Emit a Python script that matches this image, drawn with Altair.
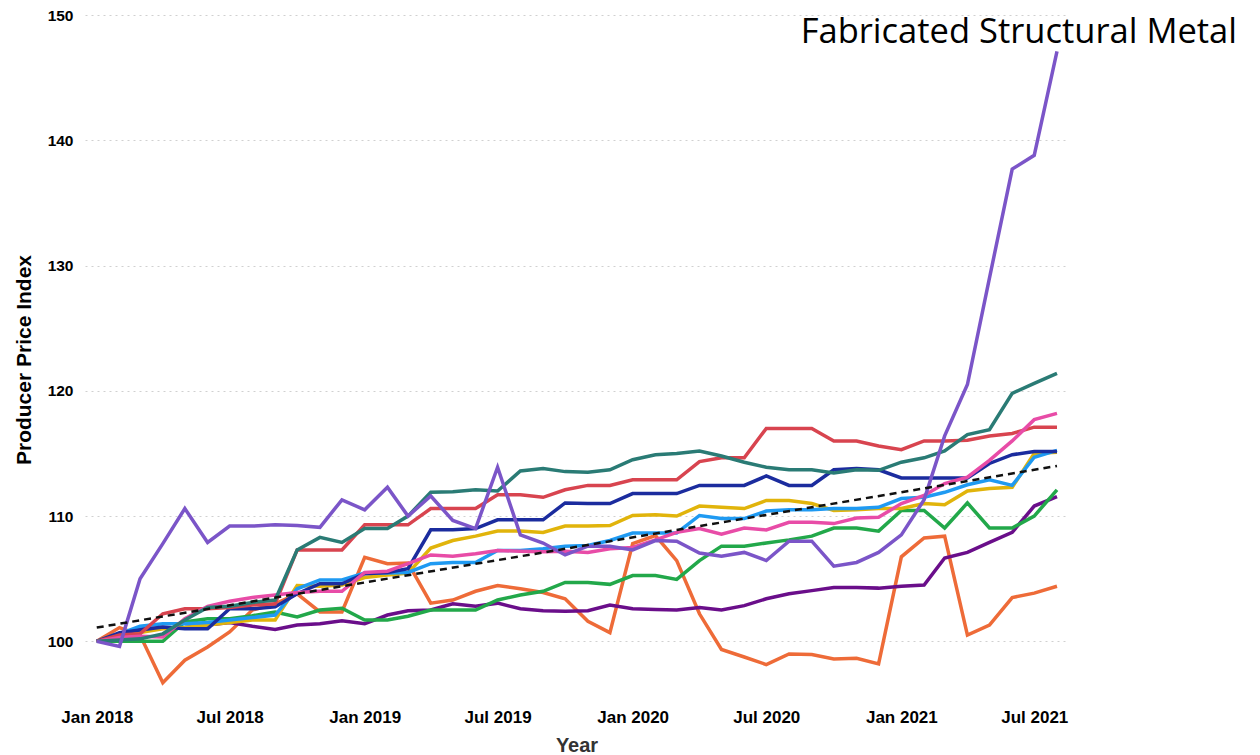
import altair as alt
import pandas as pd

# Monthly observations Jan 2018 .. Aug 2021
months = pd.date_range("2018-01-01", "2021-08-01", freq="MS").strftime("%Y-%m-%dT00:00:00").tolist()

series_names = [
    "Orange", "Dark Purple", "Green", "Yellow", "Light Blue",
    "Dark Blue", "Red", "Pink", "Teal", "Fabricated Structural Metal",
]
series_colors = [
    "#EE6B38", "#6A0E8A", "#22A84A", "#E1B40B", "#1F9AF2",
    "#1B2C9E", "#D8444F", "#E84CA7", "#2A7B75", "#7B55C8",
]

orange = [100, 101.1, 100.5, 96.7, 98.5, 99.55, 100.75, 102.5, 103.0, 103.8, 102.35, 102.35,
          106.7, 106.2, 106.25, 103.05, 103.3, 104.0, 104.45, 104.2, 103.9, 103.4, 101.6, 100.7,
          107.8, 108.45, 106.45, 102.2, 99.35, 98.75, 98.15, 99.0, 98.95, 98.6, 98.65, 98.2,
          106.75, 108.25, 108.4, 100.5, 101.3, 103.5, 103.85, 104.4]
dark_purple = [100, 100.5, 101.0, 101.05, 101.1, 101.3, 101.5, 101.2, 100.95, 101.3, 101.4, 101.65,
               101.4, 102.1, 102.45, 102.5, 103.0, 102.8, 103.05, 102.6, 102.45, 102.4, 102.45, 102.9,
               102.6, 102.55, 102.5, 102.7, 102.5, 102.85, 103.4, 103.8, 104.05, 104.3, 104.3, 104.25,
               104.4, 104.5, 106.65, 107.1, 107.9, 108.7, 110.8, 111.55]
green = [100, 100.0, 100.0, 100.0, 101.55, 101.8, 101.8, 102.05, 102.35, 101.95, 102.5, 102.65,
         101.7, 101.7, 102.0, 102.5, 102.5, 102.5, 103.3, 103.7, 104.0, 104.7, 104.7, 104.55,
         105.25, 105.25, 104.95, 106.45, 107.6, 107.6, 107.85, 108.1, 108.4, 109.05, 109.05, 108.8,
         110.45, 110.45, 109.05, 111.05, 109.05, 109.05, 110.0, 112.1]
yellow = [100, 100.3, 100.7, 101.0, 101.1, 101.3, 101.5, 101.7, 101.7, 104.45, 104.4, 104.5,
          105.1, 105.3, 105.45, 107.45, 108.05, 108.4, 108.8, 108.8, 108.7, 109.2, 109.2, 109.25,
          110.05, 110.1, 110.0, 110.8, 110.7, 110.6, 111.25, 111.25, 111.0, 110.45, 110.5, 110.6,
          110.6, 111.0, 110.9, 112.0, 112.2, 112.3, 115.0, 115.1]
light_blue = [100, 100.6, 101.2, 101.4, 101.4, 101.5, 101.7, 101.9, 102.1, 104.2, 104.9, 104.9,
              105.45, 105.45, 105.5, 106.2, 106.3, 106.3, 107.25, 107.25, 107.4, 107.6, 107.65, 108.05,
              108.65, 108.65, 108.65, 110.05, 109.8, 109.8, 110.4, 110.5, 110.5, 110.6, 110.6, 110.7,
              111.4, 111.5, 111.9, 112.5, 112.9, 112.45, 114.7, 115.25]
dark_blue = [100, 100.7, 100.9, 101.15, 101.0, 101.0, 102.6, 102.6, 102.75, 103.8, 104.6, 104.6,
             105.4, 105.5, 105.8, 108.9, 108.9, 109.0, 109.7, 109.7, 109.7, 111.05, 111.0, 111.0,
             111.8, 111.8, 111.8, 112.45, 112.45, 112.45, 113.2, 112.45, 112.45, 113.7, 113.8, 113.7,
             113.05, 113.05, 113.05, 113.05, 114.2, 114.9, 115.15, 115.15]
red = [100, 100.5, 100.6, 102.2, 102.6, 102.6, 102.7, 102.9, 103.0, 107.3, 107.3, 107.3,
       109.3, 109.3, 109.3, 110.6, 110.6, 110.6, 111.7, 111.7, 111.5, 112.1, 112.45, 112.45,
       112.9, 112.9, 112.9, 114.35, 114.65, 114.65, 117.0, 117.0, 117.0, 116.0, 116.0, 115.6,
       115.3, 116.0, 116.0, 116.05, 116.4, 116.6, 117.1, 117.1]
pink = [100, 100.3, 100.4, 100.35, 101.8, 102.8, 103.2, 103.5, 103.7, 103.9, 104.0, 104.0,
        105.5, 105.6, 106.2, 106.9, 106.8, 107.0, 107.25, 107.2, 107.15, 107.2, 107.1, 107.4,
        107.5, 108.1, 108.7, 109.0, 108.55, 109.05, 108.9, 109.5, 109.5, 109.4, 109.85, 109.9,
        111.0, 111.65, 112.6, 113.1, 114.45, 116.0, 117.7, 118.2]
teal = [100, 100.1, 100.2, 100.6, 101.7, 102.7, 102.8, 103.1, 103.3, 107.3, 108.3, 107.9,
        109.0, 109.0, 110.0, 111.9, 111.95, 112.1, 112.0, 113.6, 113.8, 113.55, 113.5, 113.7,
        114.5, 114.9, 115.0, 115.2, 114.8, 114.3, 113.9, 113.7, 113.7, 113.45, 113.7, 113.65,
        114.3, 114.65, 115.2, 116.5, 116.9, 119.8, 120.6, 121.4]
fab_metal = [100, 99.6, 105.0, 107.8, 110.6, 107.9, 109.2, 109.2, 109.3, 109.25, 109.1, 111.3,
             110.5, 112.3, 110.0, 111.6, 109.65, 109.0, 113.9, 108.5, 107.85, 106.9, 107.6, 107.6,
             107.3, 108.05, 108.0, 107.05, 106.8, 107.1, 106.45, 108.0, 108.0, 106.0, 106.3, 107.1,
             108.5, 111.3, 116.4, 120.5, 129.0, 137.7, 138.8, 147.1]

series_values = [orange, dark_purple, green, yellow, light_blue,
                 dark_blue, red, pink, teal, fab_metal]

# Linear trend (start and end of the dashed line)
trend_dates = ["2018-01-01T00:00:00", "2021-08-01T00:00:00"]
trend_values = [101.1, 114.0]

y_ticks = [100, 110, 120, 130, 140, 150]
x_tick_dates = [alt.DateTime(year=y, month=m, date=1)
                for y in (2018, 2019, 2020, 2021) for m in (1, 7)]

x_scale = alt.Scale(domain=[alt.DateTime(year=2017, month=12, date=16),
                            alt.DateTime(year=2021, month=8, date=16)])
y_scale = alt.Scale(domain=[95, 150], nice=False, zero=False)

x_axis = alt.Axis(values=x_tick_dates, format="%b %Y", title="Year",
                  labelFont="Liberation Sans", labelFontWeight="bold", labelFontSize=17,
                  labelColor="#000", labelPadding=5, ticks=False, domain=False, grid=False,
                  titleFont="Liberation Sans", titleFontWeight="bold", titleFontSize=20,
                  titleColor="#333", titlePadding=10)
y_axis = alt.Axis(values=y_ticks, title="Producer Price Index",
                  labelFont="Liberation Sans", labelFontWeight="bold", labelFontSize=15.5,
                  labelColor="#000", labelPadding=12, ticks=False, domain=False,
                  grid=True, gridColor="#d0d0d0", gridDash=[2, 4], gridWidth=1,
                  titleFont="Liberation Sans", titleFontWeight="bold", titleFontSize=21,
                  titleColor="#000", titlePadding=13)

X = alt.X("date:T", scale=x_scale, axis=x_axis)
Y = alt.Y("value:Q", scale=y_scale, axis=y_axis)

layers = []
for name, color, vals in zip(series_names, series_colors, series_values):
    df = pd.DataFrame({"date": months, "value": vals, "series": name})
    layers.append(alt.Chart(df).mark_line(color=color, strokeWidth=3.5).encode(x=X, y=Y))

trend_df = pd.DataFrame({"date": trend_dates, "value": trend_values})
trend = alt.Chart(trend_df).mark_line(color="#111", strokeWidth=2.5, strokeDash=[7, 5]).encode(x=X, y=Y)

label_df = pd.DataFrame({"text": ["Fabricated Structural Metal"]})
label = alt.Chart(label_df).mark_text(
    font="Open Sans", fontSize=34.5, color="#000", align="right", baseline="alphabetic"
).encode(text="text:N", x=alt.value(1152), y=alt.value(28))

chart = alt.layer(*layers, trend, label).properties(
    width=983, height=689,
    autosize=alt.AutoSizeParams(type="none"),
    padding={"left": 77, "top": 7, "right": 180, "bottom": 52},
    background="white",
).configure_view(stroke=None)

chart.save("out.html", embed_options={"renderer": "svg", "actions": False})
